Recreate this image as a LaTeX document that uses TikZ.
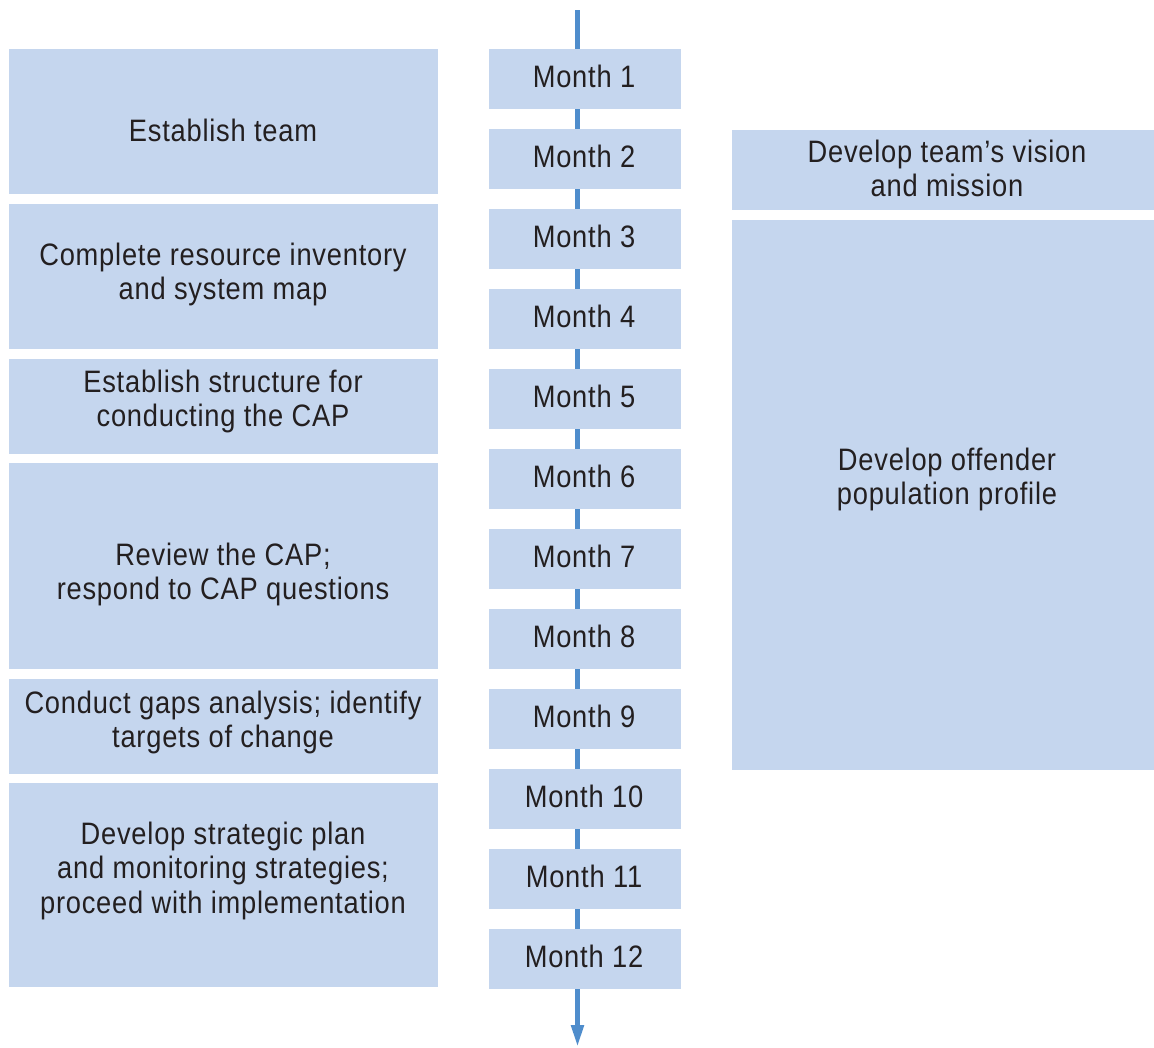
\documentclass[tikz,border=0pt]{standalone}
\usepackage{fontspec}
\setmainfont{Liberation Sans}[FakeStretch=0.88,LetterSpace=2.5]
\usetikzlibrary{arrows.meta}
\definecolor{boxfill}{RGB}{197,214,238}
\definecolor{arrowblue}{RGB}{79,141,204}
\definecolor{txt}{RGB}{35,31,32}
\tikzset{
  box/.style={fill=boxfill, draw=none, inner sep=0pt},
  lbl/.style={text=txt, align=center, font=\fontsize{31}{34.5}\selectfont, inner sep=0pt},
  mon/.style={box, minimum width=192pt, minimum height=60pt},
  timeline/.style={draw=arrowblue, line width=5pt, -{Triangle[width=12pt,length=22pt]}}
}
\begin{document}
\begin{tikzpicture}[x=1pt,y=-1pt]
\useasboundingbox (0,0) rectangle (1154,1047);
% timeline
\coordinate (ttop) at (577.5,10);
\coordinate (tbot) at (577.5,1047);
\draw[timeline] (ttop) -- (tbot);
% left boxes
\path[box] (9,49) rectangle (438,194) node[pos=0.5] (L1box) {};
\path[box] (9,204) rectangle (438,349) node[pos=0.5] (L2box) {};
\path[box] (9,359) rectangle (438,454) node[pos=0.5] (L3box) {};
\path[box] (9,463) rectangle (438,669) node[pos=0.5] (L4box) {};
\path[box] (9,679) rectangle (438,774) node[pos=0.5] (L5box) {};
\path[box] (9,783) rectangle (438,987) node[pos=0.5] (L6box) {};
% right boxes
\path[box] (732,130) rectangle (1154,210) node[pos=0.5] (R1box) {};
\path[box] (732,220) rectangle (1154,770) node[pos=0.5] (R2box) {};
% left labels
\node[lbl] (L1) at (223,130) {Establish team};
\node[lbl] (L2) at (223,274.5) {Complete resource inventory\\and system map};
\node[lbl] (L3) at (223,401.5) {Establish structure for\\conducting the CAP};
\node[lbl] (L4) at (223,574.5) {Review the CAP;\\respond to CAP questions};
\node[lbl] (L5) at (223,722.5) {Conduct gaps analysis; identify\\targets of change};
\node[lbl] (L6) at (223,870.5) {Develop strategic plan\\and monitoring strategies;\\proceed with implementation};
% right labels
\node[lbl] (R1) at (947,168.5) {Develop team’s vision\\and mission};
\node[lbl] (R2) at (947,479.5) {Develop offender\\population profile};
% months
\foreach \k in {1,...,12}{
  \node[mon] (M\k) at (585,{79+80*(\k-1)}) {};
  \node[lbl] (M\k t) at (584,{76.5+80*(\k-1)}) {Month \k};
}
\end{tikzpicture}
\end{document}
